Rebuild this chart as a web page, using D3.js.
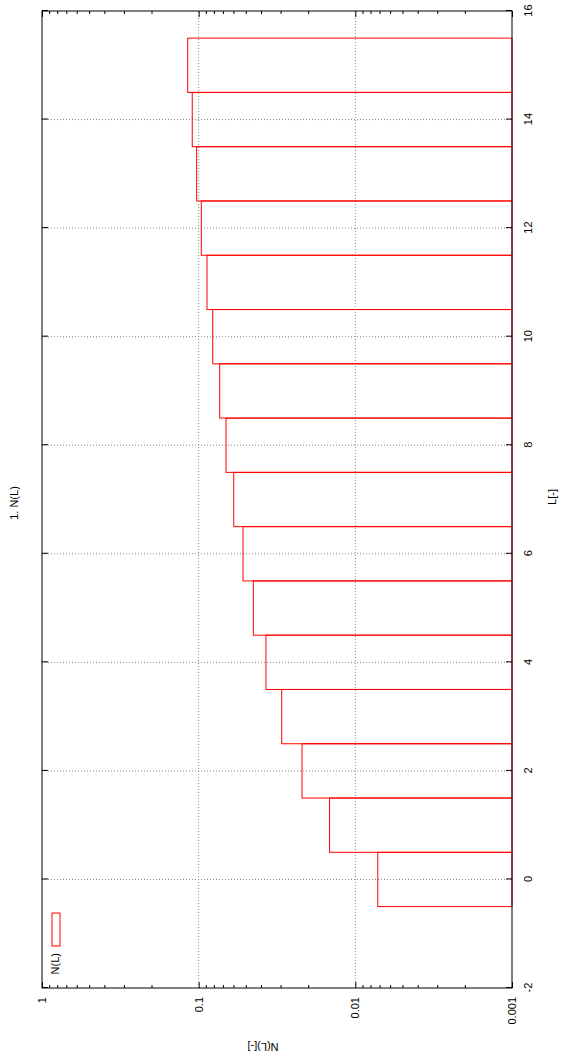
<!DOCTYPE html>
<html>
<head>
<meta charset="utf-8">
<script src="https://cdn.jsdelivr.net/npm/d3@7"></script>
<style>
  html, body { margin: 0; padding: 0; background: #fff; }
  svg { display: block; }
  text { font-family: "Liberation Sans", Arial, sans-serif; font-size: 11px; fill: #000; }
</style>
</head>
<body>
<script>
// Length classes L and their fraction N(L)
const lengths = [0, 1, 2, 3, 4, 5, 6, 7, 8, 9, 10, 11, 12, 13, 14, 15];
const fractions = [0.00719, 0.0146, 0.0219, 0.0295, 0.0372, 0.0448, 0.0521, 0.0597,
                   0.0669, 0.0734, 0.0813, 0.0885, 0.0962, 0.1030, 0.1099, 0.1175];

const lTicks = [-2, 0, 2, 4, 6, 8, 10, 12, 14, 16];
const lTickLabels = ["-2", "0", "2", "4", "6", "8", "10", "12", "14", "16"];
const lGrid = [0, 2, 4, 6, 8, 10, 12, 14];
const nTicks = [1, 0.1, 0.01, 0.001];
const nTickLabels = ["1", "0.1", "0.01", "0.001"];
const nGrid = [0.1, 0.01];
const nMinor = [0.002, 0.003, 0.004, 0.005, 0.006, 0.007, 0.008, 0.009,
                0.02, 0.03, 0.04, 0.05, 0.06, 0.07, 0.08, 0.09,
                0.2, 0.3, 0.4, 0.5, 0.6, 0.7, 0.8, 0.9];

const W = 569, H = 1064;
const svg = d3.select("body").append("svg").attr("width", W).attr("height", H);

// The plot is laid out landscape and turned a quarter turn counter-clockwise.
const g = svg.append("g").attr("transform", `translate(0,${H}) rotate(-90)`);

const plotL = 76, plotR = 1053, plotT = 42, plotB = 512;
const x = d3.scaleLinear().domain([-2, 16]).range([plotL, plotR]);
const y = d3.scaleLog().domain([0.001, 1]).range([plotB, plotT]);

// grid
const grid = g.append("g").attr("stroke", "#8a8a8a").attr("stroke-width", 1)
  .attr("stroke-dasharray", "1,2").attr("fill", "none");
grid.selectAll("line.gl").data(lGrid).join("line").attr("class", "gl")
  .attr("x1", d => x(d)).attr("x2", d => x(d)).attr("y1", plotT).attr("y2", plotB);
grid.selectAll("line.gn").data(nGrid).join("line").attr("class", "gn")
  .attr("x1", plotL).attr("x2", plotR).attr("y1", d => y(d)).attr("y2", d => y(d));

// bars (outlined boxes from the 0.001 baseline)
g.append("g").selectAll("rect").data(lengths).join("rect")
  .attr("x", (d) => x(d - 0.5))
  .attr("width", (d) => x(d + 0.5) - x(d - 0.5))
  .attr("y", (d, i) => y(fractions[i]))
  .attr("height", (d, i) => y(0.001) - y(fractions[i]))
  .attr("fill", "none").attr("stroke", "#ff0000").attr("stroke-width", 1);

// axes
function styleAxis(sel) {
  sel.select(".domain").remove();
  sel.selectAll(".tick line").attr("stroke", "#000");
  sel.selectAll("text").attr("font-size", 11).attr("font-family", null).attr("fill", "#000");
}
g.append("g").attr("transform", `translate(0,${plotB})`)
  .call(d3.axisBottom(x).tickValues(lTicks).tickSize(-6).tickSizeOuter(0).tickPadding(12)
    .tickFormat((d, i) => lTickLabels[i]))
  .call(styleAxis);
g.append("g").attr("transform", `translate(0,${plotT})`)
  .call(d3.axisTop(x).tickValues(lTicks).tickSize(-6).tickSizeOuter(0).tickFormat(""))
  .call(styleAxis);
g.append("g").attr("transform", `translate(${plotL},0)`)
  .call(d3.axisLeft(y).tickValues(nTicks).tickSize(-6).tickSizeOuter(0).tickPadding(9)
    .tickFormat((d, i) => nTickLabels[i]))
  .call(styleAxis);
g.append("g").attr("transform", `translate(${plotL},0)`)
  .call(d3.axisLeft(y).tickValues(nMinor).tickSize(-3).tickSizeOuter(0).tickFormat(""))
  .call(styleAxis);
g.append("g").attr("transform", `translate(${plotR},0)`)
  .call(d3.axisRight(y).tickValues(nTicks).tickSize(-6).tickSizeOuter(0).tickFormat(""))
  .call(styleAxis);
g.append("g").attr("transform", `translate(${plotR},0)`)
  .call(d3.axisRight(y).tickValues(nMinor).tickSize(-3).tickSizeOuter(0).tickFormat(""))
  .call(styleAxis);

// frame
g.append("rect").attr("x", plotL).attr("y", plotT).attr("width", plotR - plotL).attr("height", plotB - plotT)
  .attr("fill", "none").attr("stroke", "#000").attr("stroke-width", 1);

// titles
g.append("text").attr("x", 561).attr("y", 18).attr("text-anchor", "middle").text("1. N(L)");
g.append("text").attr("x", 567).attr("y", 556).attr("text-anchor", "middle").text("L[-]");
g.append("text").attr("transform", "translate(21,263) rotate(-90)").attr("text-anchor", "middle").text("N(L)[-]");

// legend
g.append("text").attr("x", 111).attr("y", 59).attr("text-anchor", "end").text("N(L)");
g.append("rect").attr("x", 118).attr("y", 52).attr("width", 33).attr("height", 8)
  .attr("fill", "none").attr("stroke", "#ff0000").attr("stroke-width", 1);
</script>
</body>
</html>
